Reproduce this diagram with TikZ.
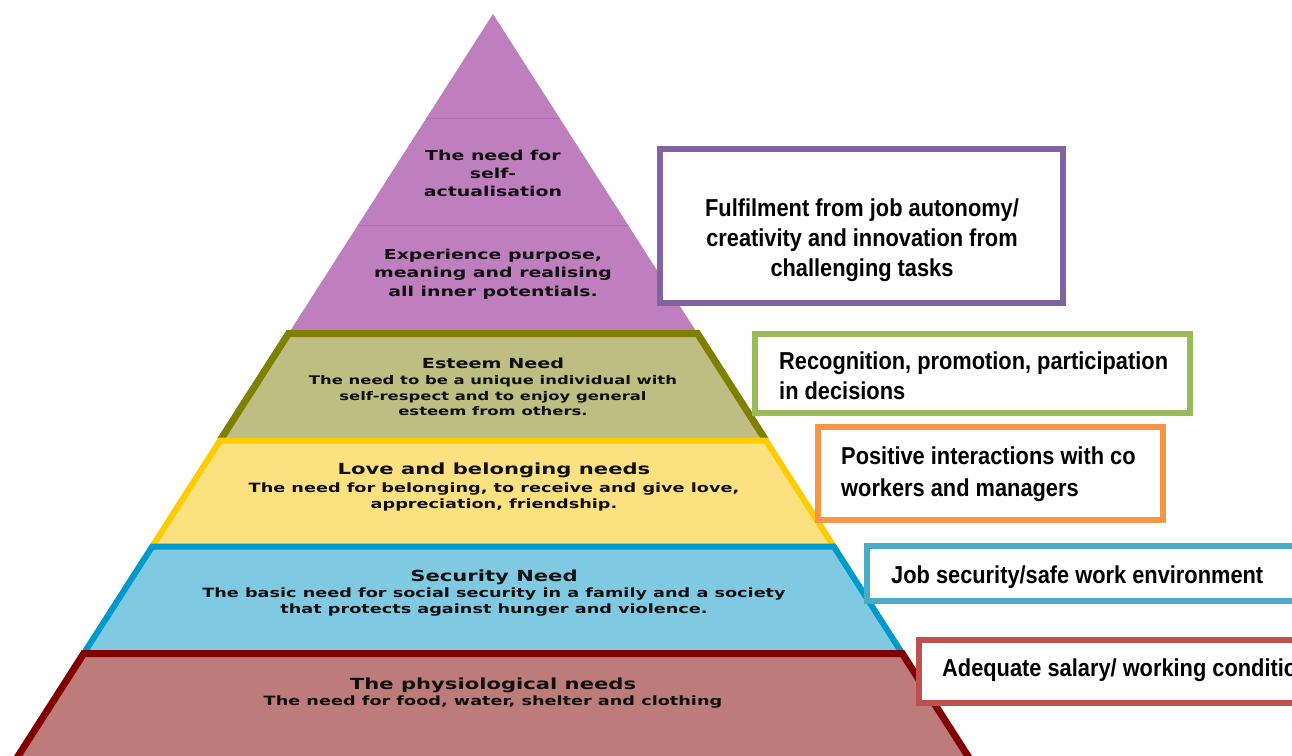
\documentclass[tikz,border=0pt]{standalone}
\usepackage{fontspec}
\newfontfamily\pyrfont[FakeStretch=1.38]{DejaVu Sans}
\newfontfamily\boxfont[FakeStretch=0.89]{Liberation Sans}
\definecolor{purpfill}{HTML}{BF7FBF}
\definecolor{purpline}{HTML}{B26AB2}
\definecolor{olivefill}{HTML}{BEBE82}
\definecolor{oliveline}{HTML}{7F7F00}
\definecolor{yelfill}{HTML}{FCE180}
\definecolor{yelline}{HTML}{FFCC00}
\definecolor{bluefill}{HTML}{7FCAE2}
\definecolor{blueline}{HTML}{0099CC}
\definecolor{redfill}{HTML}{BD7B79}
\definecolor{redline}{HTML}{800000}
\definecolor{txt}{HTML}{101010}
\definecolor{bpurp}{HTML}{8064A2}
\definecolor{bgreen}{HTML}{9BBB59}
\definecolor{borange}{HTML}{F79646}
\definecolor{bblue}{HTML}{4BACC6}
\definecolor{bred}{HTML}{C0504D}
\begin{document}
\begin{tikzpicture}[x=1pt,y=-1pt,
  ptitle/.style={font={\pyrfont\bfseries\fontsize{15.3}{18}\selectfont}, text=txt, anchor=base, inner sep=0pt},
  etitle/.style={font={\pyrfont\bfseries\fontsize{13.9}{17}\selectfont}, text=txt, anchor=base, inner sep=0pt},
  ptext/.style={font={\pyrfont\bfseries\fontsize{13.7}{17}\selectfont}, text=txt, anchor=base, inner sep=0pt},
  pbody/.style={font={\pyrfont\bfseries\fontsize{11.9}{15}\selectfont}, text=txt, anchor=base, inner sep=0pt},
  lbody/.style={font={\pyrfont\bfseries\fontsize{12.8}{15}\selectfont}, text=txt, anchor=base, inner sep=0pt},
  bx/.style={draw, line width=6pt, fill=white, inner sep=0pt},
  btext/.style={font={\boxfont\bfseries\fontsize{24.5}{30}\selectfont}, text=black, inner sep=0pt},
  bandline/.style={line width=#1, line join=miter}
]
\path[use as bounding box, clip] (0,0) rectangle (1292,755);
\fill[white] (0,0) rectangle (1292,755);
% top triangle
\fill[purpfill] (493,14) -- (701.64,340) -- (284.36,340) -- cycle;
\draw[purpline, line width=1pt] (426.44,118) -- (559.56,118);
\draw[purpline, line width=1pt] (357.96,225) -- (628.04,225);
% esteem band
\fill[olivefill] (220.36,440) -- (288.52,333.5) -- (697.48,333.5) -- (765.64,440) -- cycle;
\draw[oliveline, bandline=7pt] (220.36,440) -- (288.52,333.5) -- (697.48,333.5) -- (765.64,440);
% love band
\fill[yelfill] (152.52,546) -- (220.04,440.5) -- (765.96,440.5) -- (833.48,546) -- cycle;
\draw[yelline, bandline=6pt] (152.52,546) -- (220.04,440.5) -- (765.96,440.5) -- (833.48,546);
% security band
\fill[bluefill] (84.04,653) -- (152.2,546.5) -- (833.8,546.5) -- (901.96,653) -- cycle;
\draw[blueline, bandline=6pt] (84.04,653) -- (152.2,546.5) -- (833.8,546.5) -- (901.96,653);
% physiological band
\fill[redfill] (9.16,770) -- (83.72,653.5) -- (902.28,653.5) -- (976.84,770) -- cycle;
\draw[redline, bandline=7pt] (9.16,770) -- (83.72,653.5) -- (902.28,653.5) -- (976.84,770);
% pyramid texts
\node[ptext] (sa1) at (493,160) {The need for};
\node[ptext] (sa2) at (493,178) {self-};
\node[ptext] (sa3) at (493,196) {actualisation};
\node[ptext] (ex1) at (493,259) {Experience purpose,};
\node[ptext] (ex2) at (493,277) {meaning and realising};
\node[ptext] (ex3) at (493,296) {all inner potentials.};
\node[etitle] (es0) at (493,368) {Esteem Need};
\node[pbody] (es1) at (493,384.3) {The need to be a unique individual with};
\node[pbody] (es2) at (493,400.3) {self-respect and to enjoy general};
\node[pbody] (es3) at (493,415.5) {esteem from others.};
\node[ptitle] (lo0) at (494,474.6) {Love and belonging needs};
\node[lbody] (lo1) at (494,492.6) {The need for belonging, to receive and give love,};
\node[lbody] (lo2) at (494,508.6) {appreciation, friendship.};
\node[ptitle] (se0) at (494,581.6) {Security Need};
\node[lbody] (se1) at (494,597.6) {The basic need for social security in a family and a society};
\node[lbody] (se2) at (494,613.6) {that protects against hunger and violence.};
\node[ptitle] (ph0) at (493,689.6) {The physiological needs};
\node[lbody] (ph1) at (493,705.6) {The need for food, water, shelter and clothing};
% boxes
\node[bx, draw=bpurp, minimum width=403pt, minimum height=154pt] (b1) at (861.5,226) {};
\node[bx, draw=bgreen, minimum width=435pt, minimum height=79pt] (b2) at (972.5,373.5) {};
\node[bx, draw=borange, minimum width=345pt, minimum height=93pt] (b3) at (990.5,473.5) {};
\node[bx, draw=bblue, minimum width=443pt, minimum height=55pt] (b4) at (1088.5,573.5) {};
\node[bx, draw=bred, minimum width=391pt, minimum height=63pt] (b5) at (1114.5,671.5) {};
% box texts
\node[btext, anchor=base] (t1a) at (862,216.8) {Fulfilment from job autonomy/};
\node[btext, anchor=base] (t1b) at (862,246.8) {creativity and innovation from};
\node[btext, anchor=base] (t1c) at (862,276.8) {challenging tasks};
\node[btext, anchor=base west] (t2a) at (779,369.8) {Recognition, promotion, participation};
\node[btext, anchor=base west] (t2b) at (779,399.8) {in decisions};
\node[btext, anchor=base west] (t3a) at (841,464.8) {Positive interactions with co};
\node[btext, anchor=base west] (t3b) at (841,496.8) {workers and managers};
\node[btext, anchor=base west] (t4) at (891,583.8) {Job security/safe work environment};
\node[btext, anchor=base west] (t5) at (942,676.8) {Adequate salary/ working conditions};
\end{tikzpicture}
\end{document}
